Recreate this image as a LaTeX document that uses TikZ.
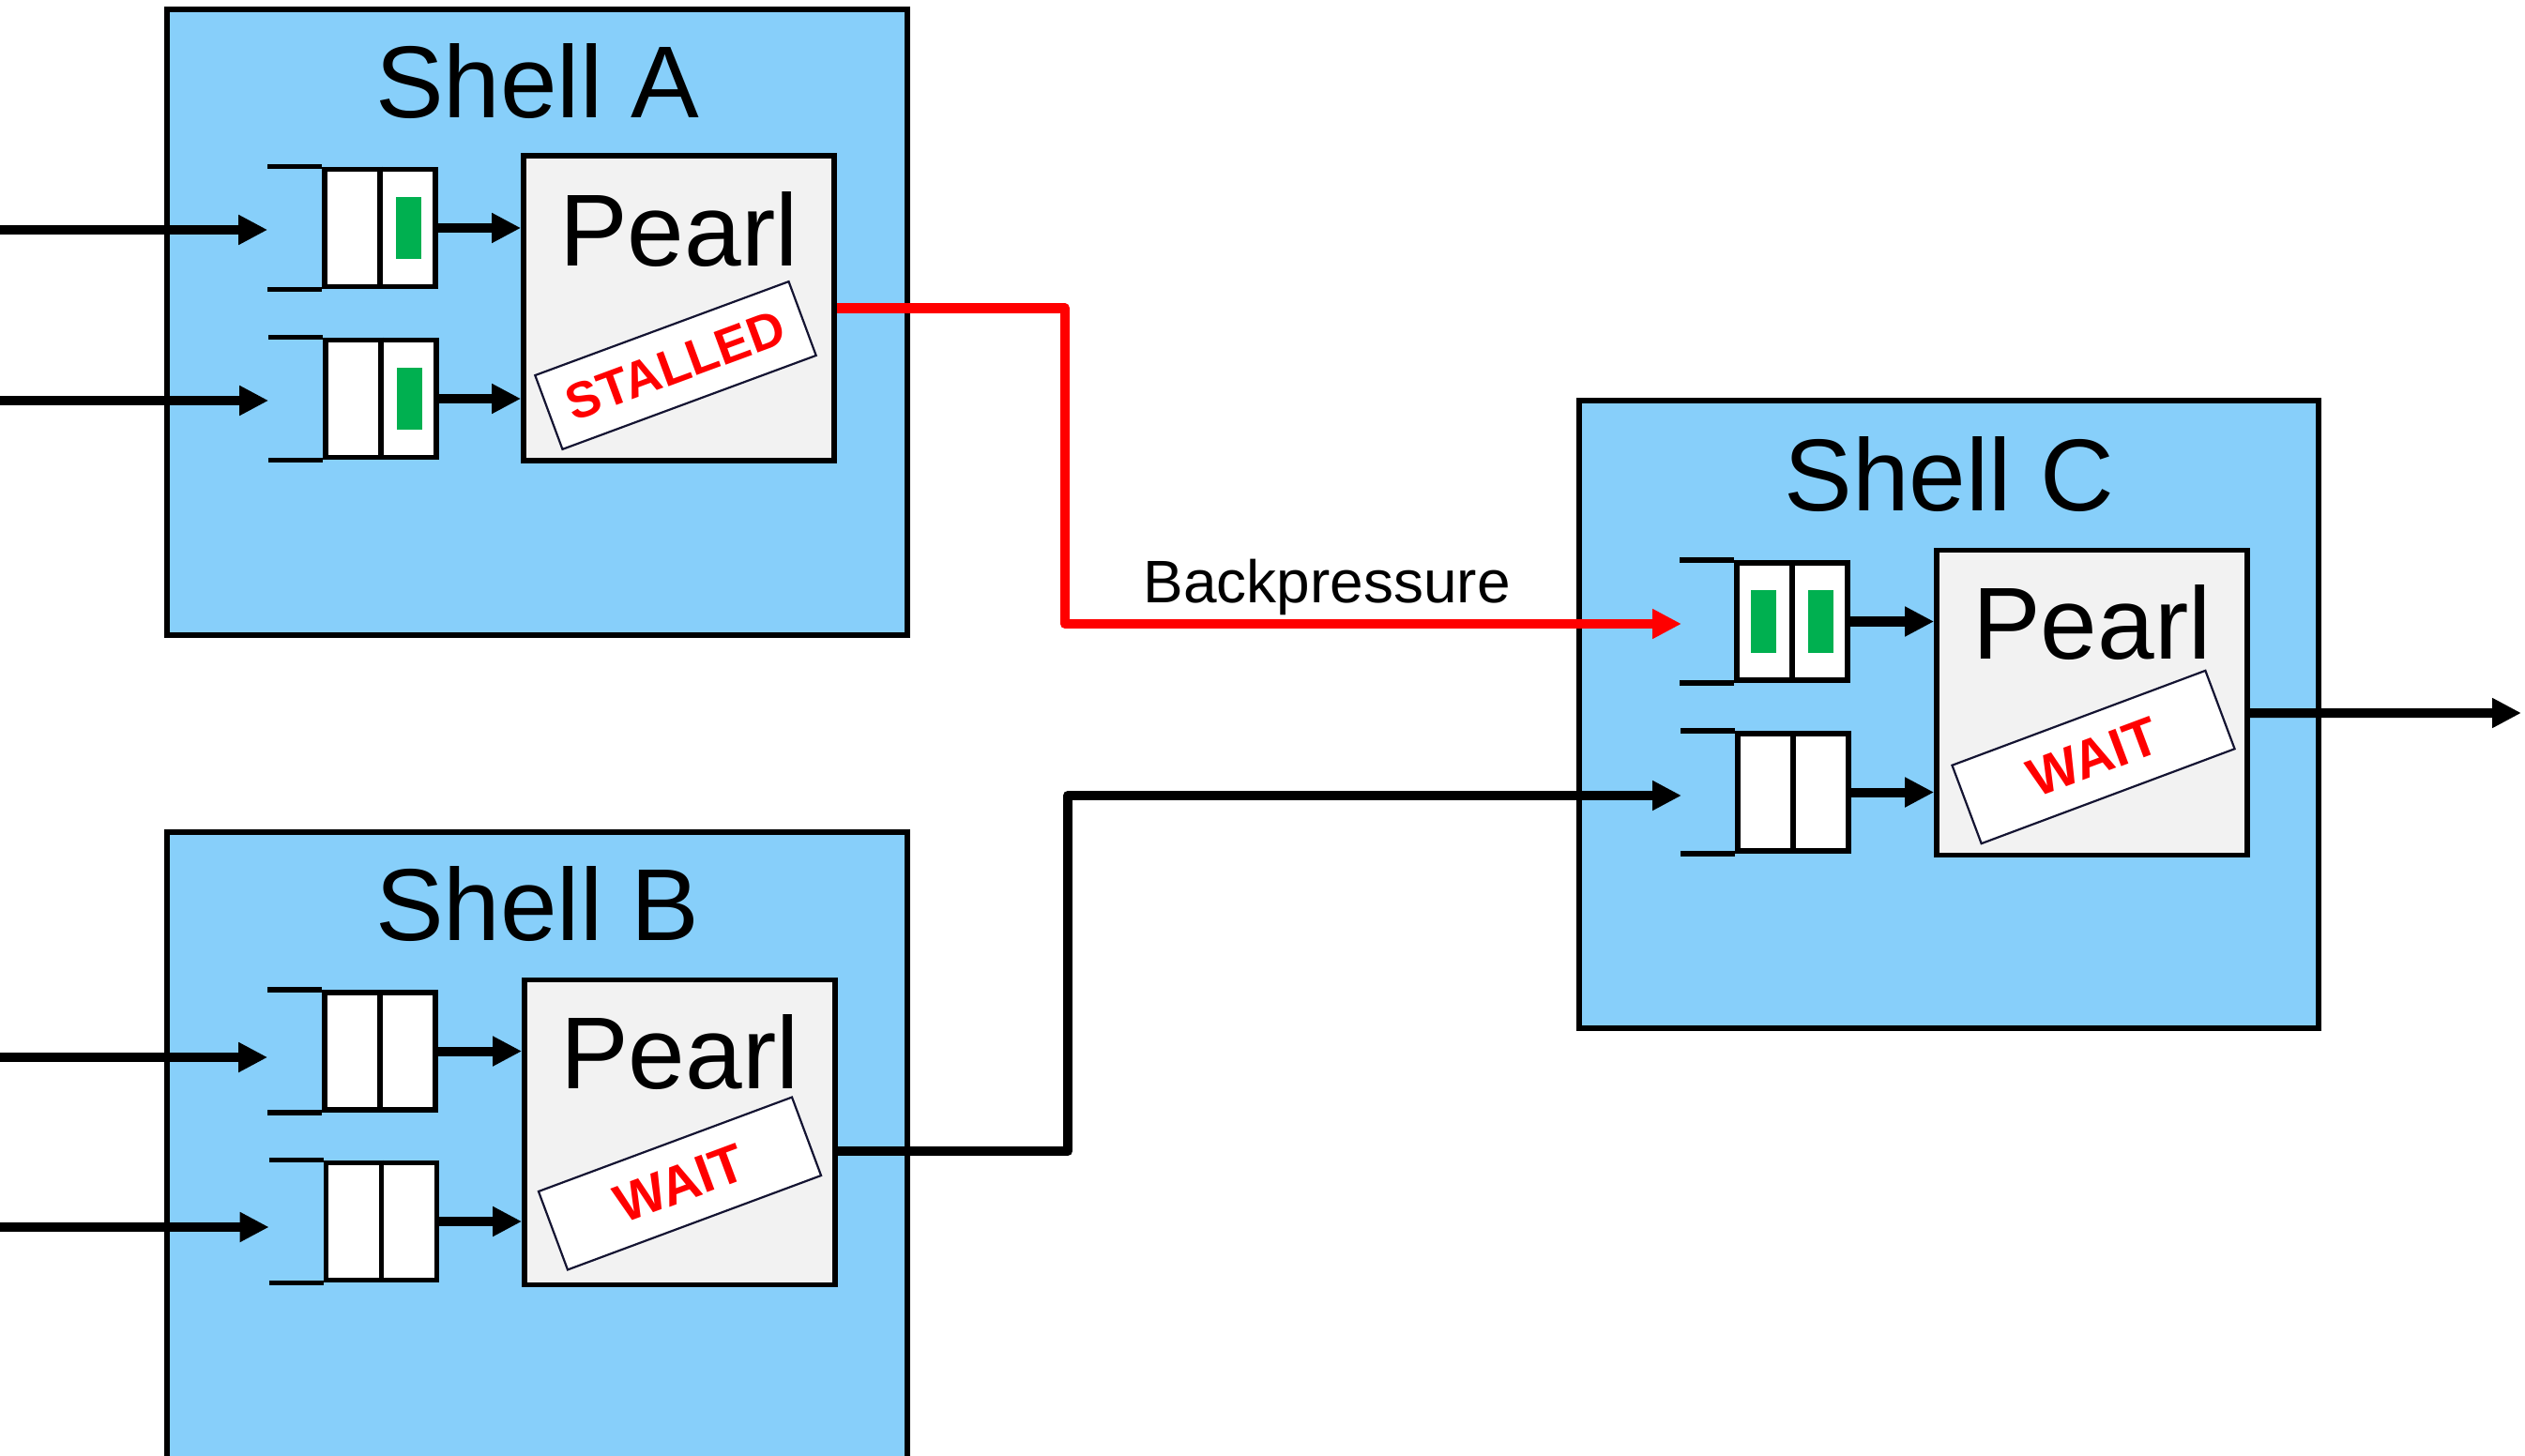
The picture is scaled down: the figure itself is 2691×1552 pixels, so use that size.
\documentclass[tikz,border=0pt]{standalone}
\usepackage{fontspec}
\setmainfont{Liberation Sans}
\usetikzlibrary{arrows.meta,calc}
\definecolor{shellblue}{RGB}{135,207,250}
\definecolor{qgreen}{RGB}{0,176,80}
\definecolor{pearlgray}{RGB}{242,242,242}
\definecolor{tagline}{RGB}{20,20,50}
\newcommand\myqueue[2]{%
  \node[queue] (#1) at (#2) {};
  \draw[qline] ([xshift=-0.58cm]#1.north west) -- (#1.north west);
  \draw[qline] ([xshift=-0.58cm]#1.south west) -- (#1.south west);
  \draw[qline] (#1.north) -- (#1.south);
  \coordinate (#1in) at ([xshift=-0.58cm]#1.west);
}
\begin{document}
\begin{tikzpicture}[x=0.01cm,y=-0.01cm,
  shell/.style={draw=black,fill=shellblue,line width=0.06cm,anchor=north west,inner sep=0pt},
  shelltitle/.style={anchor=base,font=\fontsize{31}{37}\selectfont,inner sep=0pt},
  pearl/.style={draw=black,fill=pearlgray,line width=0.055cm,minimum width=3.31cm,minimum height=3.25cm,inner sep=0pt},
  pearltext/.style={anchor=base,font=\fontsize{31}{37}\selectfont,inner sep=0pt},
  tag/.style={draw=tagline,fill=white,line width=0.022cm,minimum width=2.88cm,inner sep=0pt,text=red},
  queue/.style={draw=black,fill=white,line width=0.055cm,minimum width=1.18cm,minimum height=1.25cm,inner sep=0pt},
  qline/.style={draw=black,line width=0.055cm},
  token/.style={fill=qgreen,minimum width=0.27cm,minimum height=0.66cm,inner sep=0pt},
  arr/.style={draw=black,line width=0.1cm,-{Triangle[length=0.31cm,width=0.30cm]}},
  link/.style={draw=black,line width=0.1cm,line join=round,-{Triangle[length=0.31cm,width=0.30cm]}},
  bp/.style={link,draw=red,-{Triangle[length=0.31cm,width=0.30cm,fill=red]}},
  lbl/.style={anchor=base,font=\fontsize{18.2}{22}\selectfont,inner sep=0pt}
]
\useasboundingbox (0,0) rectangle (2691,1552);
\begin{scope}
\clip (0,0) rectangle (2691,1552);

% shells
\node[shell,minimum width=7.89cm,minimum height=6.67cm] (shellA) at (175,7) {};
\node[shell,minimum width=7.89cm,minimum height=7.20cm] (shellB) at (175,884) {};
\node[shell,minimum width=7.88cm,minimum height=6.69cm] (shellC) at (1680,424) {};
\node[shelltitle] (titleA) at ([yshift=-1.18cm]shellA.north) {Shell A};
\node[shelltitle] (titleB) at ([yshift=-1.18cm]shellB.north) {Shell B};
\node[shelltitle] (titleC) at ([yshift=-1.20cm]shellC.north) {Shell C};

% pearls
\node[pearl] (pearlA) at (723.5,328.5) {};
\node[pearl] (pearlB) at (724.5,1207) {};
\node[pearl] (pearlC) at (2229.5,749) {};
\node[pearltext] (plA) at ([yshift=-1.20cm]pearlA.north) {Pearl};
\node[pearltext] (plB) at ([yshift=-1.19cm]pearlB.north) {Pearl};
\node[pearltext] (plC) at ([yshift=-1.19cm]pearlC.north) {Pearl};

% tags
\node[tag,rotate=20.3,minimum height=0.84cm,font=\bfseries\fontsize{15.3}{18}\selectfont] (tagA) at (720,389.5) {STALLED};
\node[tag,rotate=20.4,minimum height=0.89cm,font=\bfseries\fontsize{16.3}{19}\selectfont] (tagB) at (724.5,1261.5) {WAIT};
\node[tag,rotate=20.5,minimum height=0.89cm,font=\bfseries\fontsize{16.3}{19}\selectfont] (tagC) at (2231,807) {WAIT};

% queues
\myqueue{qA1}{405,243}
\myqueue{qA2}{406,425}
\myqueue{qB1}{405,1120.5}
\myqueue{qB2}{406.5,1302}
\myqueue{qC1}{1910,662.5}
\myqueue{qC2}{1911,844.5}

% tokens
\node[token] (tkA1) at ($(qA1.center)!0.5!(qA1.east)$) {};
\node[token] (tkA2) at ($(qA2.center)!0.5!(qA2.east)$) {};
\node[token] (tkC1a) at ($(qC1.center)!0.5!(qC1.west)$) {};
\node[token] (tkC1b) at ($(qC1.center)!0.5!(qC1.east)$) {};

% inputs
\coordinate (srcA1) at (0,245);
\coordinate (srcA2) at (0,427);
\coordinate (srcB1) at (0,1127);
\coordinate (srcB2) at (0,1308);
\draw[arr] (srcA1) -- (srcA1 -| qA1in);
\draw[arr] (srcA2) -- (srcA2 -| qA2in);
\draw[arr] (srcB1) -- (srcB1 -| qB1in);
\draw[arr] (srcB2) -- (srcB2 -| qB2in);

% queue to pearl
\draw[arr] (qA1.east) -- (qA1.east -| pearlA.west);
\draw[arr] (qA2.east) -- (qA2.east -| pearlA.west);
\draw[arr] (qB1.east) -- (qB1.east -| pearlB.west);
\draw[arr] (qB2.east) -- (qB2.east -| pearlB.west);
\draw[arr] (qC1.east) -- (qC1.east -| pearlC.west);
\draw[arr] (qC2.east) -- (qC2.east -| pearlC.west);

% links between shells
\coordinate (bendA) at (1135,0);
\coordinate (bendB) at (1138,0);
\coordinate (inC1) at (1792,665);
\coordinate (inC2) at (1792,848);
\draw[bp] (pearlA.east) -| (bendA |- inC1) -- (inC1);
\draw[link] ([yshift=-0.2cm]pearlB.east) -| (bendB |- inC2) -- (inC2);
\node[lbl] (bplabel) at (1414,642) {Backpressure};

% output of C
\coordinate (outC) at (2687,760);
\draw[link] ([yshift=-0.11cm]pearlC.east) -- (outC);
\end{scope}
\end{tikzpicture}
\end{document}
